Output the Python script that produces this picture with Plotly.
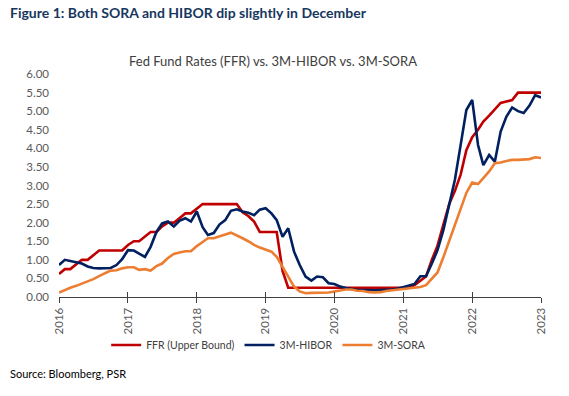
import pandas as pd
import plotly.graph_objects as go

dates = pd.date_range("2016-01-01", "2023-01-01", freq="MS")

ffr = [0.62, 0.75, 0.75, 0.87, 1.00, 1.00, 1.12, 1.25, 1.25, 1.25,
       1.25, 1.25, 1.40, 1.50, 1.50, 1.62, 1.75, 1.75, 1.90, 2.00,
       2.00, 2.12, 2.25, 2.25, 2.37, 2.50, 2.50, 2.50, 2.50, 2.50,
       2.50, 2.50, 2.28, 2.18, 2.03, 1.75, 1.75, 1.75, 1.75, 0.70,
       0.25, 0.25, 0.25, 0.25, 0.25, 0.25, 0.25, 0.25, 0.25, 0.25,
       0.25, 0.25, 0.25, 0.25, 0.25, 0.25, 0.25, 0.25, 0.25, 0.25,
       0.25, 0.25, 0.32, 0.45, 0.55, 1.00, 1.38, 1.95, 2.50, 2.85,
       3.30, 3.95, 4.30, 4.50, 4.72, 4.88, 5.05, 5.22, 5.26, 5.30,
       5.50, 5.50, 5.50, 5.50, 5.50]

hibor = [0.86, 1.00, 0.97, 0.94, 0.90, 0.82, 0.78, 0.77, 0.77, 0.78,
         0.86, 1.02, 1.26, 1.25, 1.17, 1.08, 1.35, 1.75, 1.98, 2.03,
         1.90, 2.05, 2.12, 2.03, 2.30, 1.88, 1.67, 1.72, 1.95, 2.07,
         2.32, 2.36, 2.30, 2.27, 2.20, 2.35, 2.39, 2.25, 2.07, 1.62,
         1.85, 1.22, 0.86, 0.55, 0.44, 0.55, 0.53, 0.37, 0.35, 0.28,
         0.24, 0.21, 0.19, 0.19, 0.18, 0.18, 0.19, 0.19, 0.20, 0.22,
         0.26, 0.30, 0.35, 0.56, 0.56, 0.90, 1.26, 1.80, 2.45, 3.15,
         4.10, 5.03, 5.30, 4.09, 3.55, 3.82, 3.64, 4.45, 4.85, 5.10,
         5.00, 4.95, 5.15, 5.43, 5.37]

sora = [0.12, 0.19, 0.25, 0.30, 0.35, 0.42, 0.48, 0.57, 0.64, 0.71,
        0.72, 0.77, 0.80, 0.80, 0.73, 0.75, 0.71, 0.83, 0.90, 1.05,
        1.16, 1.20, 1.23, 1.23, 1.37, 1.48, 1.58, 1.58, 1.62, 1.68,
        1.73, 1.66, 1.58, 1.50, 1.40, 1.33, 1.28, 1.22, 1.08, 0.80,
        0.55, 0.28, 0.15, 0.10, 0.11, 0.11, 0.12, 0.12, 0.15, 0.18,
        0.20, 0.20, 0.17, 0.16, 0.13, 0.12, 0.13, 0.16, 0.18, 0.19,
        0.21, 0.22, 0.24, 0.27, 0.32, 0.48, 0.66, 1.07, 1.50, 1.90,
        2.35, 2.80, 3.08, 3.04, 3.20, 3.38, 3.60, 3.62, 3.66, 3.69,
        3.69, 3.70, 3.71, 3.76, 3.74]

series_names = ["FFR (Upper Bound)", "3M-HIBOR", "3M-SORA"]
series_colors = ["#C00000", "#002060", "#ED7D31"]
year_ticks = [f"{y}-01-01" for y in range(2016, 2024)]
year_labels = [str(y) for y in range(2016, 2024)]
y_ticks = [i * 0.5 for i in range(13)]

FONT = "Lato, Carlito, Calibri, sans-serif"

fig = go.Figure()
for name, vals, col in zip(series_names, [ffr, hibor, sora], series_colors):
    fig.add_trace(go.Scatter(x=dates, y=vals, mode="lines", name=name,
                             line=dict(color=col, width=2.6)))

# invisible trace for inside ticks on second axis
fig.add_trace(go.Scatter(x=[dates[0]], y=[None], xaxis="x2", showlegend=False,
                         hoverinfo="skip"))

fig.update_layout(
    width=569, height=396,
    margin=dict(l=59, r=28, t=74, b=99),
    paper_bgcolor="white", plot_bgcolor="white",
    font=dict(family=FONT, size=11, color="#595959"),
    showlegend=True,
    legend=dict(orientation="h", x=0.435, xanchor="center", y=-0.215, yanchor="middle",
                font=dict(family=FONT, size=10.5, color="#404040"),
                itemwidth=30, tracegroupgap=0, bgcolor="rgba(0,0,0,0)"),
    xaxis=dict(type="date", range=["2016-01-01", "2023-01-01"],
               tickmode="array", tickvals=year_ticks, ticktext=year_labels,
               tickangle=-90, showgrid=False, zeroline=False,
               showline=True, linecolor="#404040", linewidth=1.3,
               ticks="outside", ticklen=5, tickcolor="#404040", tickwidth=1.3,
               tickfont=dict(family=FONT, size=11.5, color="#595959")),
    xaxis2=dict(type="date", range=["2016-01-01", "2023-01-01"], overlaying="x",
                tickmode="array", tickvals=year_ticks, showticklabels=False,
                ticks="inside", ticklen=5, tickcolor="#404040", tickwidth=1.3,
                showgrid=False, zeroline=False, showline=False, anchor="y", side="bottom"),
    yaxis=dict(range=[0, 6], tickmode="array", tickvals=y_ticks,
               tickformat=".2f", showgrid=False, zeroline=False, showline=False,
               ticks="", ticklabelstandoff=9,
               tickfont=dict(family=FONT, size=11.5, color="#595959")),
    annotations=[
        dict(text="<b>Figure 1: Both SORA and HIBOR dip slightly in December</b>",
             xref="paper", yref="paper", x=-0.106, y=1.278, xanchor="left", yanchor="middle",
             showarrow=False, font=dict(family=FONT, size=14, color="#17375E")),
        dict(text="Fed Fund Rates (FFR) vs. 3M-HIBOR vs. 3M-SORA",
             xref="paper", yref="paper", x=0.444, y=1.058, xanchor="center", yanchor="middle",
             showarrow=False, font=dict(family=FONT, size=13, color="#404040")),
        dict(text="Source: Bloomberg, PSR",
             xref="paper", yref="paper", x=-0.106, y=-0.345, xanchor="left", yanchor="middle",
             showarrow=False, font=dict(family=FONT, size=11, color="#000000")),
    ],
)

fig.write_html("out.html", config={"displayModeBar": False},
               post_script="document.body.style.margin='0';document.body.style.padding='0';")
